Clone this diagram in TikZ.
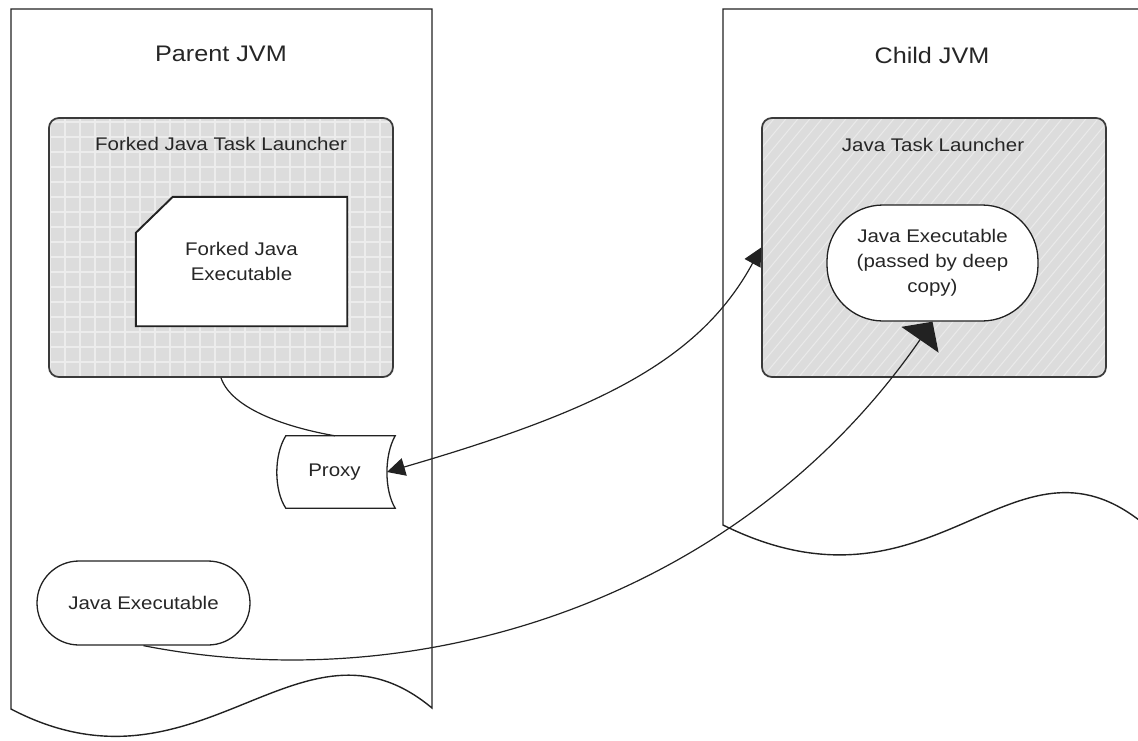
\documentclass[tikz,border=0pt]{standalone}
\usepackage{fontspec}
\setmainfont{Liberation Sans}[FakeStretch=1.12]
\usetikzlibrary{arrows.meta}
\pgfdeclarelayer{background}
\pgfsetlayers{background,main}

\definecolor{ink}{HTML}{222222}
\definecolor{txt}{HTML}{262626}
\definecolor{boxfill}{HTML}{DCDCDC}
\definecolor{gridline}{HTML}{ECECEC}
\definecolor{hatchline}{HTML}{EAEAEA}
\definecolor{boxedge}{HTML}{3A3A3A}

\tikzset{
  jvm/.style={draw=ink, line width=1.4pt},
  title/.style={text=txt, font=\fontsize{22.5}{26}\selectfont},
  label/.style={text=txt, font=\fontsize{18.3}{25}\selectfont, align=center},
  launcher/.style={draw=boxedge, line width=1.7pt, rounded corners=10pt,
    minimum width=344pt, minimum height=259pt},
  stadium/.style={draw=ink, line width=1.3pt, fill=white, label},
  conn/.style={draw=ink, line width=1.2pt},
}

\begin{document}
\begin{tikzpicture}[x=1pt, y=-1pt]
\useasboundingbox (0,0) rectangle (1138,740);
\clip (0,0) rectangle (1138,740);

% process boundaries
\draw[jvm] (11,9) -- (432,9) -- (432,708)
  .. controls (300,598) and (200,808) .. (11,709) -- cycle;
\draw[jvm] (723,525) -- (723,9) -- (1144,9) -- (1144,524)
  .. controls (1012,416) and (935,630) .. (723,525) -- cycle;

\node[title] (ptitle) at (221,54) {Parent JVM};
\node[title] (ctitle) at (932,55) {Child JVM};

% launchers
\node[launcher] (fl) at (221,247.5) {};
\node[launcher] (cl) at (934,247.5) {};
\node[label] (fltitle) at (221,144) {Forked Java Task Launcher};
\node[label] (cltitle) at (933,145) {Java Task Launcher};

\begin{pgfonlayer}{background}
  % grid-patterned fill
  \begin{scope}
    \clip[rounded corners=10pt] (fl.south west) rectangle (fl.north east);
    \fill[boxfill] (fl.south west) rectangle (fl.north east);
    \foreach \x in {50,65,...,395} \draw[gridline, line width=1.4pt] (\x,110) -- (\x,385);
    \foreach \y in {122,137,...,377} \draw[gridline, line width=1.4pt] (40,\y) -- (400,\y);
  \end{scope}
  % hatched fill
  \begin{scope}
    \clip[rounded corners=10pt] (cl.south west) rectangle (cl.north east);
    \fill[boxfill] (cl.south west) rectangle (cl.north east);
    \foreach \x in {500,512,...,1110} \draw[hatchline, line width=1pt] (\x,390) -- ++(250,-300);
  \end{scope}
\end{pgfonlayer}

% forked executable card
\node[label, minimum width=211pt, minimum height=129pt] (fe) at (241.5,261.5) {Forked Java\\Executable};
\begin{pgfonlayer}{background}
  \filldraw[fill=white, draw=ink, line width=1.9pt]
    (fe.south west) -- ([yshift=-36pt]fe.north west) -- ([xshift=37pt]fe.north west)
    -- (fe.north east) -- (fe.south east) -- cycle;
\end{pgfonlayer}

% proxy
\node[label, minimum width=109pt, minimum height=72pt] (proxy) at (340.5,472) {\hspace*{-12pt}Proxy};
\draw[draw=ink, line width=1.3pt]
  (proxy.north west) -- (proxy.north east)
  .. controls +(-11,19) and +(-11,-18) .. (proxy.south east)
  -- (proxy.south west)
  .. controls +(-12,-18) and +(-12,19) .. (proxy.north west) -- cycle;
\coordinate (proxyin) at ([xshift=-8.25pt]proxy.east);
\coordinate (proxytop) at ([xshift=-5.5pt]proxy.north);

% executables
\node[stadium, minimum width=213pt, minimum height=84pt, rounded corners=42pt] (pje) at (143.5,603) {Java Executable};
\node[stadium, minimum width=211pt, minimum height=116pt, rounded corners=56pt] (cje) at (932.5,263) {Java Executable\\(passed by deep\\copy)};

% connectors
\draw[conn] (fl.south) .. controls (232,410) and (290,428) .. (proxytop);
\draw[conn, {Triangle[length=18pt, width=18pt]}-{Triangle[length=18pt, width=18pt]}]
  (proxyin) .. controls (600,410) and (700,360) .. (cl.west);
\draw[conn, -{Triangle[length=22pt, width=45pt]}]
  (pje.south) .. controls (420,700) and (740,600) .. (cje.south);
\end{tikzpicture}
\end{document}
